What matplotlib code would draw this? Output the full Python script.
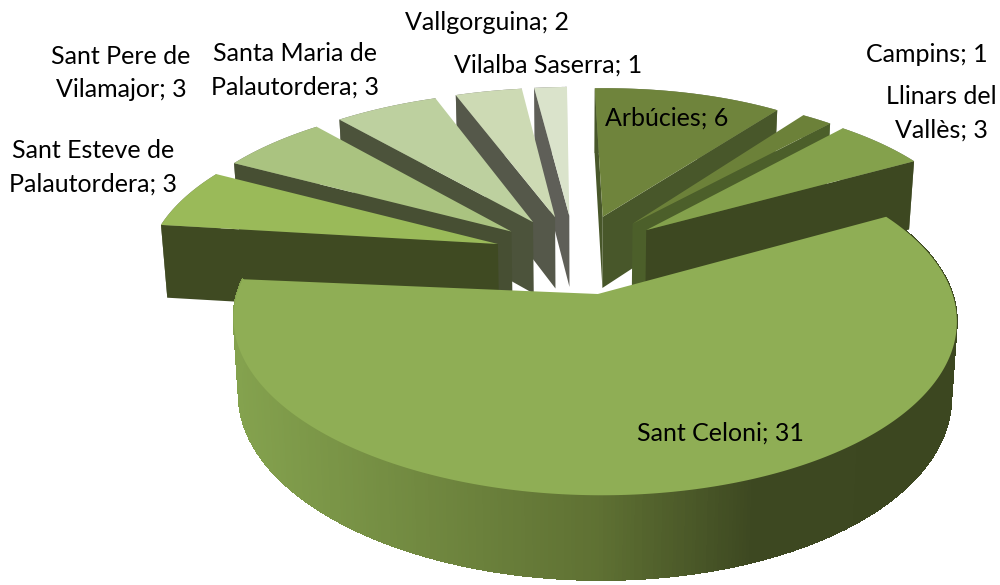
import numpy as np
import matplotlib
matplotlib.use('Agg')
import matplotlib.pyplot as plt
from matplotlib.collections import PolyCollection
from matplotlib.colors import LinearSegmentedColormap
from matplotlib.patches import Polygon

## data
names = ['Arbúcies', 'Campins', 'Llinars del\nVallès', 'Sant Celoni',
         'Sant Esteve de\nPalautordera', 'Sant Pere de\nVilamajor',
         'Santa Maria de\nPalautordera', 'Vallgorguina', 'Vilalba Saserra']
values = [6, 1, 3, 31, 3, 3, 3, 2, 1]

## colours
top_colors = ['#6f843c', '#6c8139', '#84a14c', '#8fae55', '#9aba59',
              '#aac380', '#bdd09f', '#cddab4', '#dae3cb']
face_colors = ['#48572a', '#4c5f2a', '#3d4821', '#3d4821', '#3f4a22',
               '#474f33', '#4c533b', '#55584a', '#5f5f58']
wall_stops = [(0.0, '#84a24e'), (0.5, '#5f7133'), (0.72, '#3d4821'), (1.0, '#3c4720')]

label_xy = [(667, 118), (927, 55), (941, 113), (720, 433), (93, 167),
            (121, 73), (295, 70), (487, 22), (548, 65)]

## view of the pie, in pixels (fitted on the slice corners)
view_x = (348.98, 61.98, 579.75)
view_y = (-6.33, -123.23, 253.74)
view_w = (0.01558, 0.13922)
warp_x = (-12.36, -2.45, 12.26)
warp_y = (4.87, -5.87, 1.20)
explode = 0.25
start_angle = -1.32
height = 73
shrink = 0.985


def project(u, v, bottom=False):
  w = view_w[0] * u + view_w[1] * v + 1
  x = (view_x[0] * u + view_x[1] * v + view_x[2]) / w
  y = (view_y[0] * u + view_y[1] * v + view_y[2]) / w
  x = x + warp_x[0] * u * v + warp_x[1] * u * u + warp_x[2] * v * v
  y = y + warp_y[0] * u * v + warp_y[1] * u * u + warp_y[2] * v * v
  if bottom:
    x = view_x[2] + (x - view_x[2]) * shrink
    y = view_y[2] + (y - view_y[2]) * shrink + height / w
  return np.column_stack([x, y])


def area(pts):
  x, y = pts[:, 0], pts[:, 1]
  return np.sum(x * np.roll(y, -1) - np.roll(x, -1) * y) / 2


def make_slice(a0, a1):
  mid = np.radians((a0 + a1) / 2)
  u0, v0 = explode * np.sin(mid), explode * np.cos(mid)
  t = np.radians(np.linspace(a0, a1, 400))
  us, vs = u0 + np.sin(t), v0 + np.cos(t)
  arc_top = project(us, vs)
  arc_bot = project(us, vs, bottom=True)
  apex_top = project(np.array([u0]), np.array([v0]))
  apex_bot = project(np.array([u0]), np.array([v0]), bottom=True)
  return apex_top, apex_bot, arc_top, arc_bot


fig = plt.figure(figsize=(10, 5.85), dpi=100)
ax = fig.add_axes([0, 0, 1, 1])

total = sum(values)
edges = start_angle + np.cumsum([0] + values) / total * 360
mids = (edges[:-1] + edges[1:]) / 2
order = np.argsort(-np.cos(np.radians(mids)))
cmap = LinearSegmentedColormap.from_list('wall', wall_stops)

for i in order:
  apex_top, apex_bot, arc_top, arc_bot = make_slice(edges[i], edges[i + 1])

  # outer wall, thin quads so the silhouette is swept properly
  quads = np.stack([arc_top[:-1], arc_top[1:], arc_bot[1:], arc_bot[:-1]], axis=1)
  if names[i] == 'Sant Celoni':
    xc = quads[:, :, 0].mean(axis=1)
    colors = cmap((xc - xc.min()) / (xc.max() - xc.min()))
    ax.add_collection(PolyCollection(quads, facecolors=colors, edgecolors=colors,
                                     linewidths=0.6, antialiaseds=False, zorder=2))
  else:
    ax.add_collection(PolyCollection(quads, facecolors=face_colors[i], edgecolors='none',
                                     linewidths=0, zorder=2))

  # radial faces, only the ones turned to the viewer
  q0 = np.vstack([apex_top, arc_top[0], arc_bot[0], apex_bot])
  q1 = np.vstack([apex_top, arc_top[-1], arc_bot[-1], apex_bot])
  if area(q0) < 0:
    ax.add_patch(Polygon(q0, fc=face_colors[i], ec='none', zorder=2))
  if area(q1) > 0:
    ax.add_patch(Polygon(q1, fc=face_colors[i], ec='none', zorder=2))

  # top
  ax.add_patch(Polygon(np.vstack([apex_top, arc_top]), fc=top_colors[i], ec='none', zorder=2))

for name, val, (x, y) in zip(names, values, label_xy):
  ax.text(x, y, f'{name}; {val}', ha='center', va='center', fontsize=18,
          family='Lato', color='black', linespacing=1.55, zorder=3)

ax.set_xlim(0, 1000)
ax.set_ylim(585, 0)
ax.axis('off')

fig.savefig('out.png', dpi=100)
